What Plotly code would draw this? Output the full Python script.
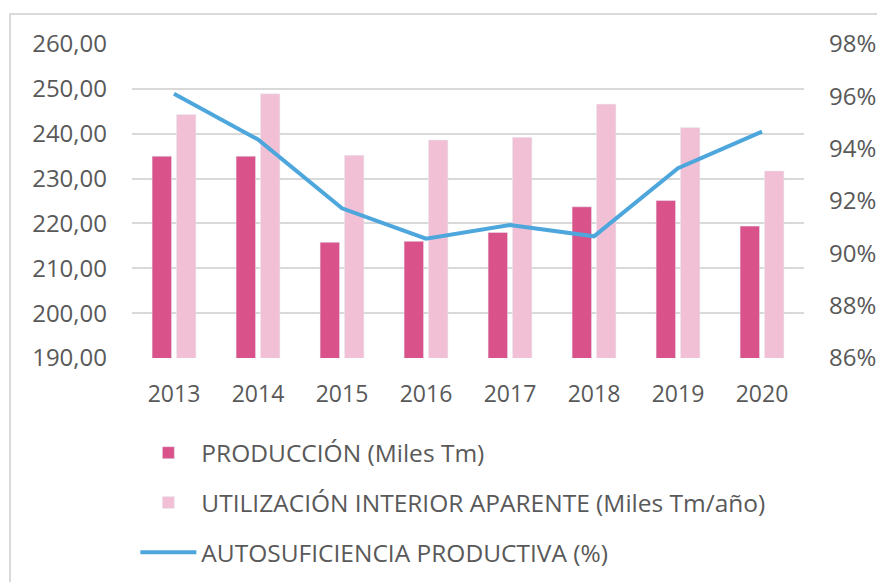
import plotly.graph_objects as go

years = ["2013", "2014", "2015", "2016", "2017", "2018", "2019", "2020"]
produccion = [235.0, 235.0, 215.8, 216.0, 218.0, 223.7, 225.1, 219.4]
utilizacion = [244.3, 248.9, 235.2, 238.6, 239.2, 246.6, 241.4, 231.7]
autosuficiencia = [96.1, 94.35, 91.72, 90.56, 91.08, 90.65, 93.25, 94.65]

y_ticks = [190, 200, 210, 220, 230, 240, 250, 260]
y_ticktext = ["190,00", "200,00", "210,00", "220,00", "230,00", "240,00", "250,00", "260,00"]
y2_ticks = [86, 88, 90, 92, 94, 96, 98]
y2_ticktext = ["86%", "88%", "90%", "92%", "94%", "96%", "98%"]

FONT = "Open Sans, Noto Sans, sans-serif"
GREY = "#595959"

fig = go.Figure()
fig.add_trace(go.Bar(x=years, y=produccion, name="PRODUCCIÓN (Miles Tm)",
                     marker_color="#D9538A", legendgroup="a"))
fig.add_trace(go.Bar(x=years, y=utilizacion, name="UTILIZACIÓN INTERIOR APARENTE (Miles Tm/año)",
                     marker_color="#F2C0D5", legendgroup="b"))
fig.add_trace(go.Scatter(x=years, y=autosuficiencia, name="AUTOSUFICIENCIA PRODUCTIVA (%)",
                         mode="lines", line=dict(color="#4DA6DC", width=4), yaxis="y2",
                         legendgroup="c"))

fig.update_layout(
    width=885, height=582,
    margin=dict(l=124, r=89, t=36, b=232, autoexpand=False),
    paper_bgcolor="white", plot_bgcolor="white",
    font=dict(family=FONT, color=GREY, size=23),
    barmode="group", bargap=0.42, bargroupgap=0.2,
    xaxis=dict(showgrid=False, showline=False, ticks="", tickfont=dict(size=23),
               ticklabelstandoff=20, automargin=False),
    yaxis=dict(range=[190, 260], tickvals=y_ticks, ticktext=y_ticktext,
               showgrid=True, gridcolor="#D9D9D9", gridwidth=2, zeroline=False,
               showline=False, ticks="", tickfont=dict(size=24), ticklabelstandoff=24,
               automargin=False),
    yaxis2=dict(range=[86, 98], tickvals=y2_ticks, ticktext=y2_ticktext,
                overlaying="y", side="right", showgrid=False, zeroline=False,
                showline=False, ticks="", tickfont=dict(size=24), ticklabelstandoff=24,
                automargin=False),
    showlegend=True,
    legend=dict(orientation="v", x=0.005, xanchor="left", y=-0.23, yanchor="top",
                font=dict(size=24.5, color=GREY), itemwidth=56, tracegroupgap=15,
                bgcolor="rgba(0,0,0,0)"),
    shapes=[dict(type="rect", xref="paper", yref="paper", x0=-0.1815, x1=1.15,
                 y0=-0.75, y1=1.0955, line=dict(color="#D9D9D9", width=2),
                 fillcolor="rgba(0,0,0,0)", layer="below")],
)

fig.write_html("out.html")
